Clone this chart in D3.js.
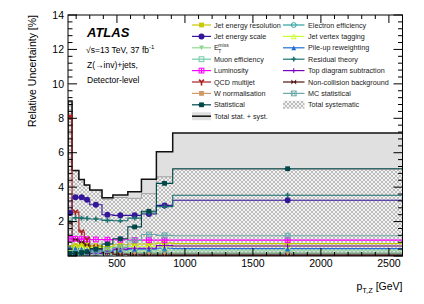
<!DOCTYPE html>
<html>
<head>
<meta charset="utf-8">
<script src="https://cdn.jsdelivr.net/npm/d3@7"></script>
<style>
  body { margin: 0; background: #fff; }
  text { font-family: "Liberation Sans", Arial, sans-serif; }
</style>
</head>
<body>
<div id="chart"></div>
<script>
// bin edges in pT,Z [GeV]
var binEdges = [140, 170, 220, 260, 300, 390, 470, 580, 680, 790, 910, 2600];

// relative uncertainty per bin [%]
var jer       = [0.50, 0.60, 0.65, 0.62, 0.60, 0.55, 0.65, 0.70, 0.70, 0.75, 0.72];
var jes       = [2.50, 3.41, 3.41, 3.27, 2.98, 2.40, 2.36, 2.36, 2.44, 2.94, 3.24];
var etmiss    = [0.30, 0.30, 0.28, 0.26, 0.25, 0.25, 0.28, 0.30, 0.30, 0.33, 0.33];
var muonEff   = [0.20, 0.20, 0.20, 0.18, 0.18, 0.18, 0.20, 0.20, 0.20, 0.22, 0.22];
var lumi      = [1.00, 1.00, 0.98, 0.97, 0.96, 0.95, 0.94, 0.93, 0.92, 0.92, 0.92];
var qcd       = [8.10, 2.55, 1.39, 0.97, 0.52, 0.20, 0.10, 0.08, 0.06, 0.05, 0.05];
var wNorm     = [0.10, 0.14, 0.15, 0.15, 0.15, 0.15, 0.15, 0.15, 0.15, 0.15, 0.15];
var stat      = [0.15, 0.15, 0.20, 0.25, 0.40, 0.70, 1.00, 1.69, 2.60, 4.22, 5.07];
var totalAll  = [9.00, 4.97, 4.45, 4.12, 3.83, 3.38, 3.55, 3.73, 4.46, 6.06, 7.15];
var elecEff   = [0.12, 0.12, 0.12, 0.12, 0.12, 0.12, 0.12, 0.12, 0.12, 0.12, 0.12];
var jvt       = [0.45, 0.50, 0.52, 0.52, 0.50, 0.50, 0.52, 0.55, 0.55, 0.57, 0.57];
var pileup    = [0.50, 0.45, 0.40, 0.35, 0.30, 0.28, 0.35, 0.40, 0.40, 0.45, 0.43];
var residual  = [1.97, 2.22, 2.20, 2.18, 2.15, 2.07, 2.05, 2.20, 2.50, 2.87, 3.53];
var topSub    = [0.08, 0.10, 0.10, 0.12, 0.15, 0.20, 0.40, 0.45, 0.45, 0.60, 0.58];
var nonColl   = [1.90, 0.95, 0.81, 0.64, 0.43, 0.20, 0.10, 0.06, 0.05, 0.05, 0.05];
var mcStat    = [0.15, 0.15, 0.20, 0.20, 0.25, 0.35, 0.50, 0.90, 1.25, 1.20, 1.18];
var totalSyst = [8.95, 4.95, 4.43, 4.10, 3.80, 3.30, 3.40, 3.35, 3.62, 4.60, 5.04];

var xTicks = [500, 1000, 1500, 2000, 2500];
var yTicks = [2, 4, 6, 8, 10, 12, 14];

(function(){

// series table: drawing order, legend position and style
var series = [
  {name: "Jet energy resolution", vals: jer, color: "#c8c800", mk: "square", col: 0, row: 0},
  {name: "Jet energy scale", vals: jes, color: "#34169a", mk: "circle", col: 0, row: 1},
  {name: "ETMISS", vals: etmiss, color: "#90d890", mk: "tridown", col: 0, row: 2},
  {name: "Muon efficiency", vals: muonEff, color: "#70cca8", mk: "opensquare", col: 0, row: 3},
  {name: "Luminosity", vals: lumi, color: "#ff00ff", mk: "boxplus", col: 0, row: 4},
  {name: "QCD multijet", vals: qcd, color: "#a82020", mk: "ytri", col: 0, row: 5},
  {name: "W normalisation", vals: wNorm, color: "#d09a68", mk: "sqcross", col: 0, row: 6},
  {name: "Electron efficiency", vals: elecEff, color: "#30a0a0", mk: "opencircle", col: 1, row: 0},
  {name: "Jet vertex tagging", vals: jvt, color: "#ccff33", mk: "opentri", col: 1, row: 1},
  {name: "Pile-up reweighting", vals: pileup, color: "#1e6ed8", mk: "tri", col: 1, row: 2},
  {name: "Residual theory", vals: residual, color: "#1a7272", mk: "plus", col: 1, row: 3},
  {name: "Top diagram subtraction", vals: topSub, color: "#7a00c0", mk: "plusthin", col: 1, row: 4},
  {name: "Non-collision background", vals: nonColl, color: "#501414", mk: "bowtie", col: 1, row: 5},
  {name: "MC statistical", vals: mcStat, color: "#6aa8a8", mk: "boxx", col: 1, row: 6},
  {name: "Statistical", vals: stat, color: "#004848", mk: "sqx", col: 0, row: 7}
];

var width = 424, height = 304;
var pLeft = 68, pRight = 402.5, pTop = 15, pBottom = 256;

var svg = d3.select("#chart").append("svg")
  .attr("width", width)
  .attr("height", height);

var x = d3.scaleLinear().domain([140, 2600]).range([pLeft, pRight]);
var y = d3.scaleLinear().domain([0, 14]).range([pBottom, pTop]);

var defs = svg.append("defs");
var hatch = defs.append("pattern")
  .attr("id", "hatch")
  .attr("width", 4).attr("height", 4)
  .attr("patternUnits", "userSpaceOnUse");
hatch.append("rect").attr("width", 4).attr("height", 4).attr("fill", "#f2f2f2");
hatch.append("path").attr("d", "M0,0L4,4M4,0L0,4").attr("stroke", "#b0b0b0").attr("stroke-width", 0.8);

defs.append("clipPath").attr("id", "plotclip")
  .append("rect").attr("x", pLeft).attr("y", pTop)
  .attr("width", pRight - pLeft).attr("height", pBottom - pTop);

// step points for a per-bin series
function steps(vals) {
  var pts = [];
  vals.forEach(function(v, i) {
    pts.push([binEdges[i], v]);
    pts.push([binEdges[i + 1], v]);
  });
  return pts;
}
var line = d3.line().x(function(d) { return x(d[0]); }).y(function(d) { return y(d[1]); });
var area = d3.area().x(function(d) { return x(d[0]); }).y0(y(0)).y1(function(d) { return y(d[1]); });
function centers() {
  return binEdges.slice(0, -1).map(function(e, i) { return (e + binEdges[i + 1]) / 2; });
}

function marker(g, type, color, cx, cy) {
  var s = 2.4;
  var m = g.append("g").attr("transform", "translate(" + cx + "," + cy + ")");
  if (type == "square") {
    m.append("rect").attr("x", -s).attr("y", -s).attr("width", 2 * s).attr("height", 2 * s).attr("fill", color);
  } else if (type == "circle") {
    m.append("circle").attr("r", s + 0.6).attr("fill", color);
  } else if (type == "opencircle") {
    m.append("circle").attr("r", s).attr("fill", "none").attr("stroke", color).attr("stroke-width", 1);
  } else if (type == "tridown") {
    m.append("path").attr("d", "M" + (-s) + "," + (-s) + "L" + s + "," + (-s) + "L0," + s + "Z").attr("fill", color);
  } else if (type == "tri") {
    m.append("path").attr("d", "M" + (-s) + "," + s + "L" + s + "," + s + "L0," + (-s) + "Z").attr("fill", color);
  } else if (type == "opentri") {
    m.append("path").attr("d", "M" + (-s) + "," + s + "L" + s + "," + s + "L0," + (-s) + "Z")
      .attr("fill", "none").attr("stroke", color).attr("stroke-width", 1);
  } else if (type == "opensquare") {
    m.append("rect").attr("x", -s).attr("y", -s).attr("width", 2 * s).attr("height", 2 * s)
      .attr("fill", "none").attr("stroke", color).attr("stroke-width", 1);
  } else if (type == "boxplus") {
    m.append("rect").attr("x", -s).attr("y", -s).attr("width", 2 * s).attr("height", 2 * s)
      .attr("fill", "none").attr("stroke", color).attr("stroke-width", 1);
    m.append("path").attr("d", "M" + (-s) + ",0H" + s + "M0," + (-s) + "V" + s).attr("stroke", color).attr("stroke-width", 1);
  } else if (type == "boxx") {
    m.append("rect").attr("x", -s).attr("y", -s).attr("width", 2 * s).attr("height", 2 * s)
      .attr("fill", "none").attr("stroke", color).attr("stroke-width", 1);
    m.append("path").attr("d", "M" + (-s) + "," + (-s) + "L" + s + "," + s + "M" + s + "," + (-s) + "L" + (-s) + "," + s)
      .attr("stroke", color).attr("stroke-width", 0.8);
  } else if (type == "sqcross" || type == "sqx") {
    m.append("rect").attr("x", -s).attr("y", -s).attr("width", 2 * s).attr("height", 2 * s).attr("fill", color);
    m.append("path").attr("d", "M" + (-s - 1) + ",0H" + (s + 1)).attr("stroke", color).attr("stroke-width", 1);
  } else if (type == "ytri") {
    m.append("path").attr("d", "M" + (-s) + "," + (-s) + "L0,0L" + s + "," + (-s) + "M0,0V" + (s + 1))
      .attr("fill", "none").attr("stroke", color).attr("stroke-width", 1.6);
  } else if (type == "plus") {
    m.append("path").attr("d", "M" + (-s) + ",0H" + s + "M0," + (-s) + "V" + s).attr("stroke", color).attr("stroke-width", 1.6);
  } else if (type == "plusthin") {
    m.append("path").attr("d", "M" + (-s) + ",0H" + s + "M0," + (-s) + "V" + s).attr("stroke", color).attr("stroke-width", 1);
  } else if (type == "bowtie") {
    m.append("path").attr("d", "M" + (-s) + "," + (-s) + "L" + s + "," + s + "V" + (-s) + "L" + (-s) + "," + s + "Z").attr("fill", color);
  }
}

var plot = svg.append("g").attr("clip-path", "url(#plotclip)");

// total stat + syst band
plot.append("path").attr("d", area(steps(totalAll))).attr("fill", "#e0e0e0");
// total systematic (hatched)
plot.append("path").attr("d", area(steps(totalSyst))).attr("fill", "url(#hatch)");
plot.append("path").attr("d", line(steps(totalSyst))).attr("fill", "none").attr("stroke", "#a0a0a0").attr("stroke-width", 1);
plot.append("path").attr("d", line([[binEdges[0], 0]].concat(steps(totalAll))))
  .attr("fill", "none").attr("stroke", "#111").attr("stroke-width", 1.5);

var cs = centers();
series.forEach(function(s) {
  plot.append("path").attr("d", line(steps(s.vals)))
    .attr("fill", "none").attr("stroke", s.color).attr("stroke-width", 1.1);
});
series.forEach(function(s) {
  s.vals.forEach(function(v, i) {
    marker(plot, s.mk, s.color, x(cs[i]), y(v));
  });
});

// frame and ticks (inside, on all sides)
svg.append("rect").attr("x", pLeft).attr("y", pTop).attr("width", pRight - pLeft).attr("height", pBottom - pTop)
  .attr("fill", "none").attr("stroke", "#000").attr("stroke-width", 1);

var ax = svg.append("g").attr("stroke", "#000").attr("stroke-width", 1);
d3.range(0, 14.01, 0.4).forEach(function(v) {
  var major = Math.abs(v / 2 - Math.round(v / 2)) < 1e-6;
  var len = major ? 9 : 4.5;
  ax.append("line").attr("x1", pLeft).attr("x2", pLeft + len).attr("y1", y(v)).attr("y2", y(v));
  ax.append("line").attr("x1", pRight).attr("x2", pRight - len).attr("y1", y(v)).attr("y2", y(v));
});
d3.range(200, 2600, 100).forEach(function(v) {
  var major = v % 500 == 0;
  var len = major ? 8 : 4;
  ax.append("line").attr("x1", x(v)).attr("x2", x(v)).attr("y1", pBottom).attr("y2", pBottom - len);
  ax.append("line").attr("x1", x(v)).attr("x2", x(v)).attr("y1", pTop).attr("y2", pTop + len);
});

svg.selectAll(".ylab").data(yTicks).enter().append("text")
  .attr("x", pLeft - 4).attr("y", function(d) { return y(d); })
  .attr("dy", "0.36em").attr("text-anchor", "end")
  .attr("font-size", 10.5).text(function(d) { return d; });
svg.selectAll(".xlab").data(xTicks).enter().append("text")
  .attr("x", function(d) { return x(d); }).attr("y", 267)
  .attr("text-anchor", "middle").attr("font-size", 10.5).text(function(d) { return d; });

svg.append("text").attr("transform", "translate(36," + pTop + ") rotate(-90)")
  .attr("text-anchor", "end").attr("font-size", 10.5).text("Relative Uncertainty [%]");

var xt = svg.append("text").attr("x", pRight).attr("y", 290).attr("text-anchor", "end").attr("font-size", 10.5);
xt.append("tspan").text("p");
xt.append("tspan").attr("font-size", 7.5).attr("dy", 3).text("T,Z");
xt.append("tspan").attr("dy", -3).text(" [GeV]");

// ATLAS label
svg.append("text").attr("x", 87).attr("y", 36.5).attr("font-size", 13).attr("font-weight", "bold")
  .attr("font-style", "italic").text("ATLAS");
var en = svg.append("text").attr("x", 86).attr("y", 52.5).attr("font-size", 8.5);
en.append("tspan").text("\u221As=13 TeV, 37 fb");
en.append("tspan").attr("font-size", 6).attr("dy", -3.5).text("-1");
svg.append("text").attr("x", 87).attr("y", 67.5).attr("font-size", 8.5).text("Z(\u2192inv)+jets,");
svg.append("text").attr("x", 87).attr("y", 82.5).attr("font-size", 8.5).text("Detector-level");

// legend
var legCols = [{x0: 192, x1: 211, tx: 214}, {x0: 283, x1: 304.5, tx: 308}];
var rowY = function(r) { return 25 + r * 11.4; };
var leg = svg.append("g");
function legText(c, r, str) {
  return leg.append("text").attr("x", legCols[c].tx).attr("y", rowY(r)).attr("dy", "0.35em")
    .attr("font-size", 7.2).attr("fill", "#222").text(str);
}
series.forEach(function(s) {
  var c = legCols[s.col], yy = rowY(s.row);
  leg.append("line").attr("x1", c.x0).attr("x2", c.x1).attr("y1", yy).attr("y2", yy)
    .attr("stroke", s.color).attr("stroke-width", 1.2);
  marker(leg, s.mk, s.color, (c.x0 + c.x1) / 2, yy);
  if (s.name == "ETMISS") {
    var t = legText(s.col, s.row, "");
    t.append("tspan").text("E");
    t.append("tspan").attr("font-size", 5).attr("dx", -0.5).attr("dy", 2.5).text("T");
    t.append("tspan").attr("font-size", 5).attr("dx", -3).attr("dy", -6).text("miss");
  } else {
    legText(s.col, s.row, s.name);
  }
});
leg.append("rect").attr("x", legCols[0].x0).attr("y", rowY(8) - 4).attr("width", legCols[0].x1 - legCols[0].x0)
  .attr("height", 8).attr("fill", "#e0e0e0");
leg.append("line").attr("x1", legCols[0].x0).attr("x2", legCols[0].x1).attr("y1", rowY(8)).attr("y2", rowY(8))
  .attr("stroke", "#111").attr("stroke-width", 1.5);
legText(0, 8, "Total stat. + syst.");
leg.append("rect").attr("x", legCols[1].x0).attr("y", rowY(7) - 4).attr("width", legCols[1].x1 - legCols[1].x0)
  .attr("height", 8).attr("fill", "url(#hatch)");
legText(1, 7, "Total systematic");

})();
</script>
</body>
</html>
